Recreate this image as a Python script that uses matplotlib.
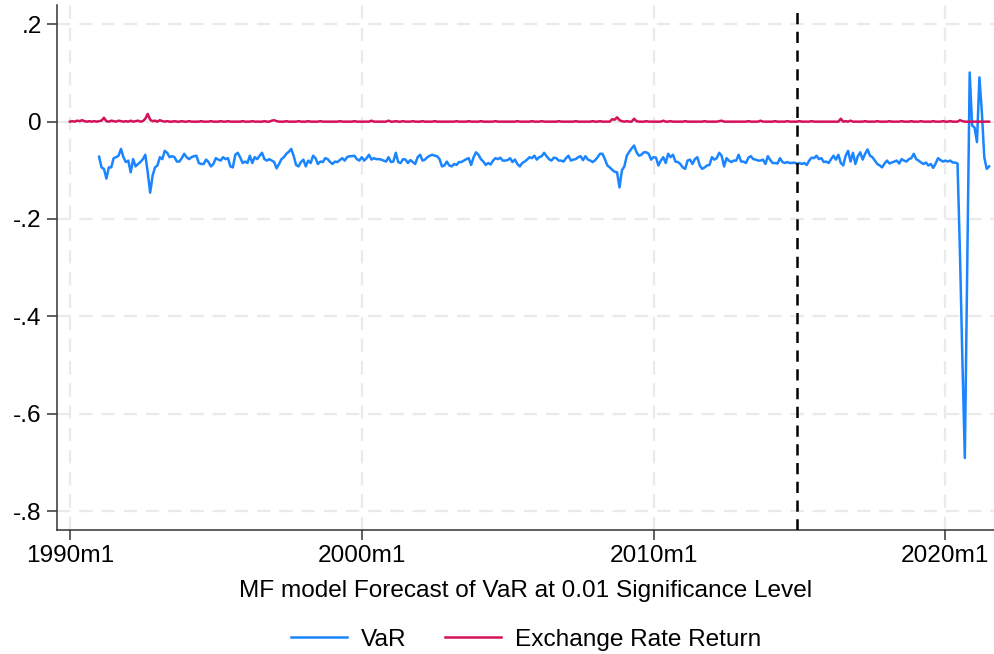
"""VaR forecast vs exchange rate return, Stata-like look."""
import matplotlib

matplotlib.use("Agg")
import matplotlib.pyplot as plt  # noqa: E402
import numpy as np  # noqa: E402
from matplotlib.ticker import FuncFormatter, FixedLocator  # noqa: E402

# monthly series, month 0 = 1990m1
ret_start = 0
var_start = 12
forecast_start = 299  # 2014m12

ret_values = [
    0.000, 0.001, 0.000, 0.002, 0.001, 0.003, 0.001, 0.000, 0.001, 0.000, 0.001, 0.000,  # 1990
    0.001, 0.002, 0.008, 0.001, 0.000, 0.002, 0.001, 0.000, 0.002, 0.001, 0.000, 0.001,  # 1991
    0.000, 0.002, 0.000, 0.001, 0.002, 0.000, 0.001, 0.006, 0.016, 0.004, 0.001, 0.002,  # 1992
    0.000, 0.003, 0.001, 0.000, 0.001, 0.000, 0.000, 0.001, 0.000, 0.000, 0.001, 0.000,  # 1993
    0.000, 0.001, 0.000, 0.000, 0.000, 0.000, 0.001, 0.000, 0.000, 0.000, 0.001, 0.000,  # 1994
    0.000, 0.000, 0.001, 0.000, 0.000, 0.001, 0.000, 0.000, 0.000, 0.000, 0.000, 0.001,  # 1995
    0.000, 0.000, 0.000, 0.001, 0.000, 0.000, 0.000, 0.000, 0.001, 0.000, 0.000, 0.002,  # 1996
    0.003, 0.001, 0.000, 0.000, 0.000, 0.001, 0.000, 0.000, 0.000, 0.000, 0.001, 0.000,  # 1997
    0.000, 0.000, 0.001, 0.000, 0.000, 0.000, 0.000, 0.001, 0.000, 0.000, 0.000, 0.000,  # 1998
    0.000, 0.000, 0.000, 0.001, 0.000, 0.000, 0.000, 0.000, 0.000, 0.001, 0.000, 0.000,  # 1999
    0.000, 0.000, 0.000, 0.000, 0.002, 0.000, 0.000, 0.000, 0.000, 0.000, 0.000, 0.002,  # 2000
    0.000, 0.000, 0.001, 0.000, 0.000, 0.001, 0.000, 0.000, 0.000, 0.001, 0.000, 0.000,  # 2001
    0.000, 0.001, 0.000, 0.000, 0.000, 0.000, 0.001, 0.000, 0.000, 0.000, 0.000, 0.000,  # 2002
    0.000, 0.000, 0.000, 0.001, 0.000, 0.000, 0.000, 0.000, 0.001, 0.000, 0.000, 0.000,  # 2003
    0.000, 0.001, 0.000, 0.000, 0.000, 0.000, 0.000, 0.001, 0.000, 0.000, 0.000, 0.000,  # 2004
    0.000, 0.000, 0.000, 0.000, 0.001, 0.000, 0.000, 0.000, 0.000, 0.000, 0.001, 0.000,  # 2005
    0.000, 0.000, 0.001, 0.000, 0.000, 0.000, 0.000, 0.000, 0.000, 0.001, 0.000, 0.000,  # 2006
    0.000, 0.000, 0.000, 0.000, 0.001, 0.000, 0.000, 0.000, 0.000, 0.000, 0.000, 0.001,  # 2007
    0.000, 0.000, 0.001, 0.000, 0.000, 0.000, 0.000, 0.005, 0.004, 0.009, 0.003, 0.001,  # 2008
    0.000, 0.001, 0.000, 0.000, 0.006, 0.001, 0.000, 0.000, 0.000, 0.001, 0.000, 0.000,  # 2009
    0.000, 0.000, 0.000, 0.000, 0.002, 0.000, 0.000, 0.001, 0.000, 0.000, 0.000, 0.000,  # 2010
    0.000, 0.001, 0.000, 0.000, 0.000, 0.000, 0.000, 0.000, 0.000, 0.001, 0.000, 0.000,  # 2011
    0.000, 0.000, 0.000, 0.001, 0.002, 0.000, 0.000, 0.000, 0.000, 0.000, 0.000, 0.000,  # 2012
    0.000, 0.000, 0.000, 0.001, 0.000, 0.000, 0.000, 0.000, 0.002, 0.000, 0.000, 0.000,  # 2013
    0.000, 0.000, 0.001, 0.000, 0.000, 0.000, 0.000, 0.001, 0.000, 0.000, 0.000, 0.000,  # 2014
    0.001, 0.000, 0.000, 0.000, 0.000, 0.001, 0.000, 0.000, 0.000, 0.000, 0.000, 0.000,  # 2015
    0.000, 0.000, 0.000, 0.000, 0.000, 0.006, 0.000, 0.001, 0.000, 0.002, 0.000, 0.000,  # 2016
    0.000, 0.000, 0.000, 0.001, 0.000, 0.000, 0.000, 0.000, 0.001, 0.000, 0.000, 0.000,  # 2017
    0.000, 0.001, 0.000, 0.000, 0.000, 0.000, 0.001, 0.000, 0.000, 0.000, 0.001, 0.000,  # 2018
    0.000, 0.000, 0.001, 0.000, 0.000, 0.000, 0.000, 0.001, 0.000, 0.000, 0.000, 0.001,  # 2019
    0.000, 0.000, 0.001, 0.000, 0.000, 0.000, 0.003, 0.001, 0.000, 0.000, 0.000, 0.000,  # 2020
    0.000, 0.000, 0.000, 0.000, 0.000, 0.000, 0.000,                                      # 2021
]

var_values = [
    -0.072, -0.094, -0.097, -0.117, -0.094, -0.094, -0.075, -0.073, -0.070, -0.056, -0.073, -0.083,  # 1991
    -0.080, -0.104, -0.077, -0.092, -0.087, -0.083, -0.077, -0.068, -0.104, -0.146, -0.111, -0.094,  # 1992
    -0.090, -0.073, -0.077, -0.060, -0.064, -0.073, -0.071, -0.073, -0.082, -0.082, -0.075, -0.066,  # 1993
    -0.073, -0.077, -0.073, -0.071, -0.070, -0.085, -0.087, -0.087, -0.078, -0.083, -0.092, -0.087,  # 1994
    -0.075, -0.078, -0.080, -0.073, -0.077, -0.075, -0.092, -0.094, -0.068, -0.064, -0.073, -0.085,  # 1995
    -0.082, -0.085, -0.070, -0.085, -0.073, -0.077, -0.070, -0.064, -0.077, -0.080, -0.077, -0.080,  # 1996
    -0.083, -0.096, -0.087, -0.077, -0.073, -0.066, -0.062, -0.056, -0.070, -0.089, -0.092, -0.083,  # 1997
    -0.078, -0.092, -0.080, -0.085, -0.070, -0.075, -0.087, -0.082, -0.083, -0.075, -0.077, -0.083,  # 1998
    -0.087, -0.082, -0.083, -0.079, -0.075, -0.080, -0.073, -0.071, -0.071, -0.070, -0.077, -0.080,  # 1999
    -0.073, -0.080, -0.075, -0.068, -0.078, -0.075, -0.077, -0.077, -0.078, -0.080, -0.082, -0.073,  # 2000
    -0.083, -0.082, -0.064, -0.083, -0.085, -0.077, -0.078, -0.085, -0.079, -0.083, -0.087, -0.073,  # 2001
    -0.068, -0.080, -0.078, -0.073, -0.070, -0.068, -0.070, -0.071, -0.077, -0.092, -0.090, -0.082,  # 2002
    -0.090, -0.092, -0.087, -0.089, -0.083, -0.083, -0.080, -0.077, -0.075, -0.089, -0.073, -0.063,  # 2003
    -0.068, -0.077, -0.082, -0.089, -0.085, -0.088, -0.080, -0.075, -0.077, -0.074, -0.080, -0.080,  # 2004
    -0.079, -0.075, -0.083, -0.078, -0.087, -0.092, -0.085, -0.082, -0.078, -0.073, -0.075, -0.070,  # 2005
    -0.078, -0.073, -0.071, -0.064, -0.071, -0.077, -0.080, -0.074, -0.075, -0.080, -0.080, -0.082,  # 2006
    -0.075, -0.070, -0.080, -0.078, -0.077, -0.073, -0.071, -0.079, -0.071, -0.078, -0.080, -0.083,  # 2007
    -0.079, -0.073, -0.066, -0.066, -0.077, -0.090, -0.094, -0.099, -0.103, -0.104, -0.135, -0.100,  # 2008
    -0.092, -0.070, -0.062, -0.055, -0.049, -0.063, -0.070, -0.068, -0.063, -0.063, -0.066, -0.078,  # 2009
    -0.073, -0.074, -0.090, -0.080, -0.073, -0.085, -0.066, -0.073, -0.068, -0.082, -0.083, -0.087,  # 2010
    -0.094, -0.097, -0.080, -0.078, -0.087, -0.077, -0.073, -0.090, -0.097, -0.094, -0.090, -0.089,  # 2011
    -0.073, -0.078, -0.075, -0.064, -0.070, -0.092, -0.075, -0.080, -0.083, -0.080, -0.080, -0.068,  # 2012
    -0.082, -0.082, -0.085, -0.074, -0.071, -0.077, -0.078, -0.080, -0.080, -0.078, -0.087, -0.071,  # 2013
    -0.079, -0.085, -0.085, -0.086, -0.075, -0.083, -0.085, -0.083, -0.085, -0.085, -0.084, -0.087,  # 2014
    -0.085, -0.087, -0.085, -0.089, -0.080, -0.074, -0.075, -0.070, -0.077, -0.075, -0.083, -0.082,  # 2015
    -0.085, -0.077, -0.070, -0.078, -0.068, -0.085, -0.090, -0.070, -0.060, -0.082, -0.064, -0.087,  # 2016
    -0.071, -0.063, -0.078, -0.066, -0.057, -0.070, -0.073, -0.080, -0.087, -0.090, -0.094, -0.086,  # 2017
    -0.080, -0.086, -0.084, -0.082, -0.080, -0.086, -0.077, -0.080, -0.082, -0.077, -0.075, -0.066,  # 2018
    -0.077, -0.080, -0.084, -0.087, -0.084, -0.090, -0.087, -0.095, -0.086, -0.075, -0.079, -0.082,  # 2019
    -0.080, -0.082, -0.080, -0.084, -0.084, -0.086, -0.270, -0.490, -0.691, -0.300, 0.101, -0.008,   # 2020
    -0.012, -0.042, 0.091, 0.020, -0.073, -0.097, -0.092,                                            # 2021
]

x_ticks = [0, 120, 240, 360]
y_ticks = [0.2, 0, -0.2, -0.4, -0.6, -0.8]

VAR_COLOR = "#1a85ff"
RET_COLOR = "#d41159"
GRID_COLOR = "#eaeaea"
FS = 17.6

plt.rcParams["font.family"] = ["Liberation Sans", "DejaVu Sans"]


def month_label(m, _pos=None):
    m = int(round(m))
    return f"{1990 + m // 12}m{m % 12 + 1}"


def stata_num(v, _pos=None):
    if abs(v) < 1e-9:
        return "0"
    s = f"{v:.1f}"
    return s.replace("0.", ".")


x_ret = np.arange(ret_start, ret_start + len(ret_values))
x_var = np.arange(var_start, var_start + len(var_values))

fig = plt.figure(figsize=(9.95, 6.54), dpi=100)
ax = fig.add_axes([0.0573, 0.1896, 0.9417, 0.803])

ax.plot(x_var, var_values, color=VAR_COLOR, lw=1.8, label="VaR", zorder=3)
ax.plot(x_ret, ret_values, color=RET_COLOR, lw=1.8, label="Exchange Rate Return", zorder=3)
ax.axvline(forecast_start, color="black", lw=1.8, ls=(0, (4.5, 3)), zorder=4)

ax.set_xlim(-5.3, 380)
ax.set_ylim(-0.839, 0.24)
ax.xaxis.set_major_locator(FixedLocator(x_ticks))
ax.yaxis.set_major_locator(FixedLocator(y_ticks))
ax.xaxis.set_major_formatter(FuncFormatter(month_label))
ax.yaxis.set_major_formatter(FuncFormatter(stata_num))
ax.tick_params(axis="both", labelsize=FS, length=7, width=1.1, color="#333333", pad=4)

ax.grid(True, color=GRID_COLOR, lw=1.6, ls=(0, (6, 4)), zorder=0)
for side in ("top", "right"):
    ax.spines[side].set_visible(False)
for side in ("left", "bottom"):
    ax.spines[side].set_color("#333333")
    ax.spines[side].set_linewidth(1.1)

ax.set_xlabel("MF model Forecast of VaR at 0.01 Significance Level", fontsize=FS, labelpad=9)

# legend is centred under the plot region, like Stata does
fig.legend(loc="center", bbox_to_anchor=(0.5286, 0.022), ncol=2, frameon=False,
           fontsize=FS, handlelength=2.3, handletextpad=0.57, columnspacing=1.55)

fig.savefig("out.png", dpi=100)
plt.close(fig)
